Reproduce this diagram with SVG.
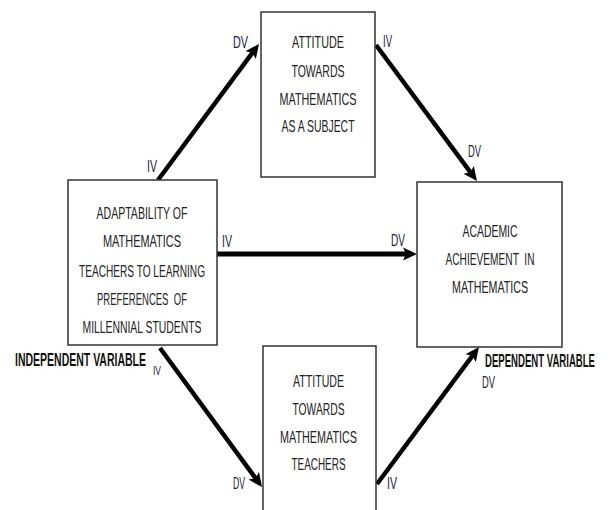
<svg xmlns="http://www.w3.org/2000/svg" width="613" height="510" viewBox="0 0 613 510">
<style>
.box{fill:#fff;stroke:#333;stroke-width:1.5}
.t{font-family:"Liberation Sans Narrow","Liberation Sans",Arial,sans-serif;font-size:16.5px;fill:#222;text-anchor:middle;white-space:pre}
.lbl{font-family:"Liberation Sans Narrow","Liberation Sans",Arial,sans-serif;font-size:16px;fill:#1e1e3a}
.big{font-family:"Liberation Sans Narrow","Liberation Sans",Arial,sans-serif;font-size:18px;font-weight:bold;fill:#111}
.arr{stroke:#000;stroke-width:4.5;fill:none;marker-end:url(#ah)}
</style>
<defs>
<marker id="ah" markerUnits="userSpaceOnUse" markerWidth="20" markerHeight="20" viewBox="0 -10 20 20" refX="6" refY="0" orient="auto">
<path d="M0,-6.5 L14,0 L0,6.5 L3,0 Z" fill="#000"/>
</marker>
</defs>
<rect width="613" height="510" fill="#fff"/>
<g id="connectors">
<line class="arr" x1="158" y1="180" x2="254.2" y2="50.4"/>
<line class="arr" x1="376" y1="45" x2="472.2" y2="174.6"/>
<line class="arr" x1="217" y1="254" x2="409" y2="254" style="stroke-width:5"/>
<line class="arr" x1="160" y1="348" x2="257.3" y2="480.6"/>
<line class="arr" x1="377" y1="484" x2="474.2" y2="353.4"/>
<text class="lbl" x="147" y="172" textLength="10" lengthAdjust="spacingAndGlyphs">IV</text>
<text class="lbl" x="233" y="48" textLength="15" lengthAdjust="spacingAndGlyphs">DV</text>
<text class="lbl" x="383" y="47" textLength="9" lengthAdjust="spacingAndGlyphs">IV</text>
<text class="lbl" x="468" y="157" textLength="13" lengthAdjust="spacingAndGlyphs">DV</text>
<text class="lbl" x="222" y="247" textLength="10" lengthAdjust="spacingAndGlyphs">IV</text>
<text class="lbl" x="391" y="246" textLength="14" lengthAdjust="spacingAndGlyphs">DV</text>
<text class="lbl" x="153" y="375" style="font-size:12px" textLength="8" lengthAdjust="spacingAndGlyphs">IV</text>
<text class="lbl" x="233" y="489" textLength="12" lengthAdjust="spacingAndGlyphs">DV</text>
<text class="lbl" x="387" y="489" textLength="10" lengthAdjust="spacingAndGlyphs">IV</text>
<text class="lbl" x="482" y="388" textLength="13" lengthAdjust="spacingAndGlyphs">DV</text>
</g>
<g id="top-node">
<rect class="box" x="261" y="12" width="114" height="165"/>
<text class="t" x="318" y="48" textLength="52" lengthAdjust="spacingAndGlyphs">ATTITUDE</text>
<text class="t" x="318" y="77" textLength="53" lengthAdjust="spacingAndGlyphs">TOWARDS</text>
<text class="t" x="318" y="105" textLength="77" lengthAdjust="spacingAndGlyphs">MATHEMATICS</text>
<text class="t" x="318" y="132" textLength="73" lengthAdjust="spacingAndGlyphs">AS A SUBJECT</text>
</g>
<g id="left-node">
<rect class="box" x="68" y="180" width="149" height="165"/>
<text class="t" x="142" y="219" textLength="91" lengthAdjust="spacingAndGlyphs">ADAPTABILITY OF</text>
<text class="t" x="142" y="247" textLength="78" lengthAdjust="spacingAndGlyphs">MATHEMATICS</text>
<text class="t" x="142" y="277" textLength="126" lengthAdjust="spacingAndGlyphs">TEACHERS TO LEARNING</text>
<text class="t" x="142" y="305" textLength="90" lengthAdjust="spacingAndGlyphs">PREFERENCES  OF</text>
<text class="t" x="142" y="333" textLength="119" lengthAdjust="spacingAndGlyphs">MILLENNIAL STUDENTS</text>
</g>
<g id="right-node">
<rect class="box" x="417" y="182" width="145" height="165"/>
<text class="t" x="490" y="237" textLength="55" lengthAdjust="spacingAndGlyphs">ACADEMIC</text>
<text class="t" x="490" y="265" textLength="89" lengthAdjust="spacingAndGlyphs">ACHIEVEMENT  IN</text>
<text class="t" x="490" y="293" textLength="76" lengthAdjust="spacingAndGlyphs">MATHEMATICS</text>
</g>
<g id="bottom-node">
<rect class="box" x="263" y="346" width="113" height="175"/>
<text class="t" x="318.5" y="387" textLength="51" lengthAdjust="spacingAndGlyphs">ATTITUDE</text>
<text class="t" x="318.5" y="415" textLength="52" lengthAdjust="spacingAndGlyphs">TOWARDS</text>
<text class="t" x="318.5" y="443" textLength="77" lengthAdjust="spacingAndGlyphs">MATHEMATICS</text>
<text class="t" x="318.5" y="470" textLength="54" lengthAdjust="spacingAndGlyphs">TEACHERS</text>
</g>
<g id="labels">
<text class="big" x="15" y="366" textLength="131" lengthAdjust="spacingAndGlyphs">INDEPENDENT VARIABLE</text>
<text class="big" x="485" y="367" textLength="110" lengthAdjust="spacingAndGlyphs">DEPENDENT VARIABLE</text>
</g>
</svg>
